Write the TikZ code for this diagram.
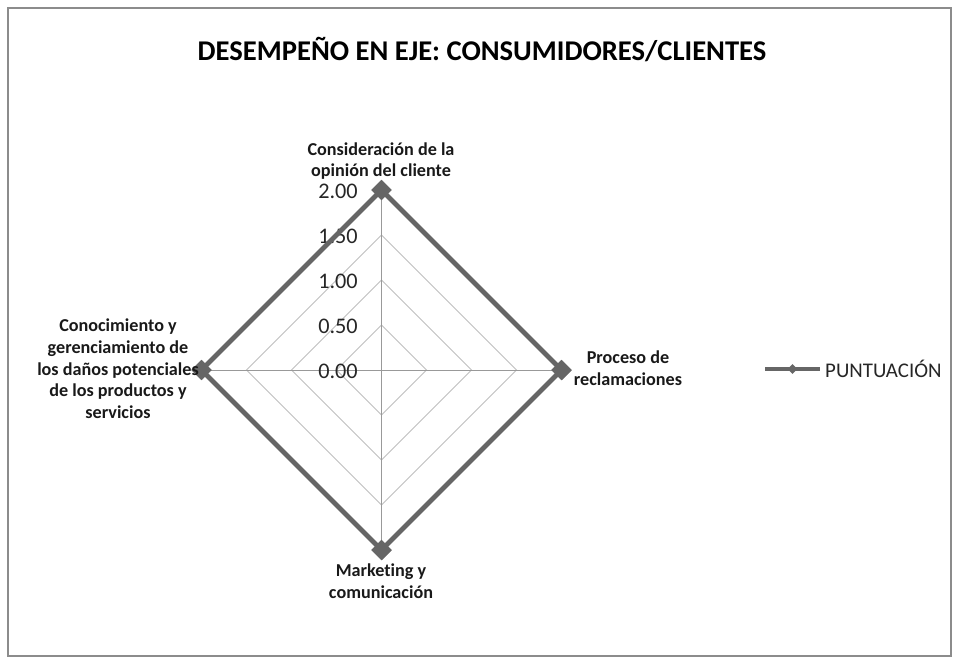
\documentclass[tikz,border=0pt]{standalone}
\usepackage{fontspec}
\setmainfont{Carlito}[Ligatures=NoCommon]
\usetikzlibrary{positioning,shapes.geometric}

\begin{document}
\begin{tikzpicture}[x=0.03cm, y=-0.03cm,
    gridline/.style={draw=black!25, line width=0.8pt},
    spoke/.style={draw=black!40, line width=0.8pt},
    series/.style={draw=black!60, line width=4.2pt, line join=miter},
    marker/.style={diamond, fill=black!60, inner sep=0pt, minimum size=0.62cm},
    axislabel/.style={font=\fontsize{15.5}{18.5}\selectfont\bfseries, align=center, text=black!90},
    ticklabel/.style={font=\fontsize{19}{19}\selectfont, anchor=east, inner sep=0pt, text=black!85}]
    % Frame
    \useasboundingbox (0,0) rectangle (959,664);
    \draw[draw=black!45, line width=1.3pt] (8,8) rectangle (951,656);

    % Title
    \node[font=\fontsize{24.4}{26}\selectfont\bfseries] (title) at (482,50) {DESEMPEÑO EN EJE: CONSUMIDORES/CLIENTES};

    % Grid
    \coordinate (c) at (381.5,370);
    \foreach \r in {45,90,135,180}
        \draw[gridline] (381.5,370-\r) -- (381.5+\r,370) -- (381.5,370+\r) -- (381.5-\r,370) -- cycle;
    \draw[spoke] (c) -- (381.5,190);
    \draw[spoke] (c) -- (561.5,370);
    \draw[spoke] (c) -- (381.5,550);
    \draw[spoke] (c) -- (201.5,370);

    % Tick labels
    \node[ticklabel] (t0) at (358,371) {0.00};
    \node[ticklabel] (t1) at (358,326) {0.50};
    \node[ticklabel] (t2) at (358,281) {1.00};
    \node[ticklabel] (t3) at (358,236) {1.50};
    \node[ticklabel] (t4) at (358,191) {2.00};

    % Series
    \node[marker] (opinion) at (381.5,190) {};
    \node[marker] (reclamo) at (561.5,370) {};
    \node[marker] (marketing) at (381.5,550) {};
    \node[marker] (danos) at (201.5,370) {};
    \draw[series] (opinion.center) -- (reclamo.center) -- (marketing.center) -- (danos.center) -- cycle;
    \node[marker] at (opinion) {};
    \node[marker] at (reclamo) {};
    \node[marker] at (marketing) {};
    \node[marker] at (danos) {};

    % Axis labels
    \node[axislabel] (lopinion) at (381,161) {Consideración de la\\opinión del cliente};
    \node[axislabel] (lreclamo) at (628,368) {Proceso de\\reclamaciones};
    \node[axislabel] (lmarketing) at (381,581) {Marketing y\\comunicación};
    \node[axislabel] (ldanos) at (118,369) {Conocimiento y\\gerenciamiento de\\los daños potenciales\\de los productos y\\servicios};

    % Legend
    \coordinate (leg1) at (765,369);
    \coordinate (leg2) at (820,369);
    \draw[series] (leg1) -- (leg2);
    \node[marker, minimum size=0.3cm] (legmark) at (792.5,369) {};
    \node[font=\fontsize{17.8}{18}\selectfont, anchor=west, inner sep=0pt, text=black!85, right=5 of leg2] (legtext) {PUNTUACIÓN};
\end{tikzpicture}
\end{document}
